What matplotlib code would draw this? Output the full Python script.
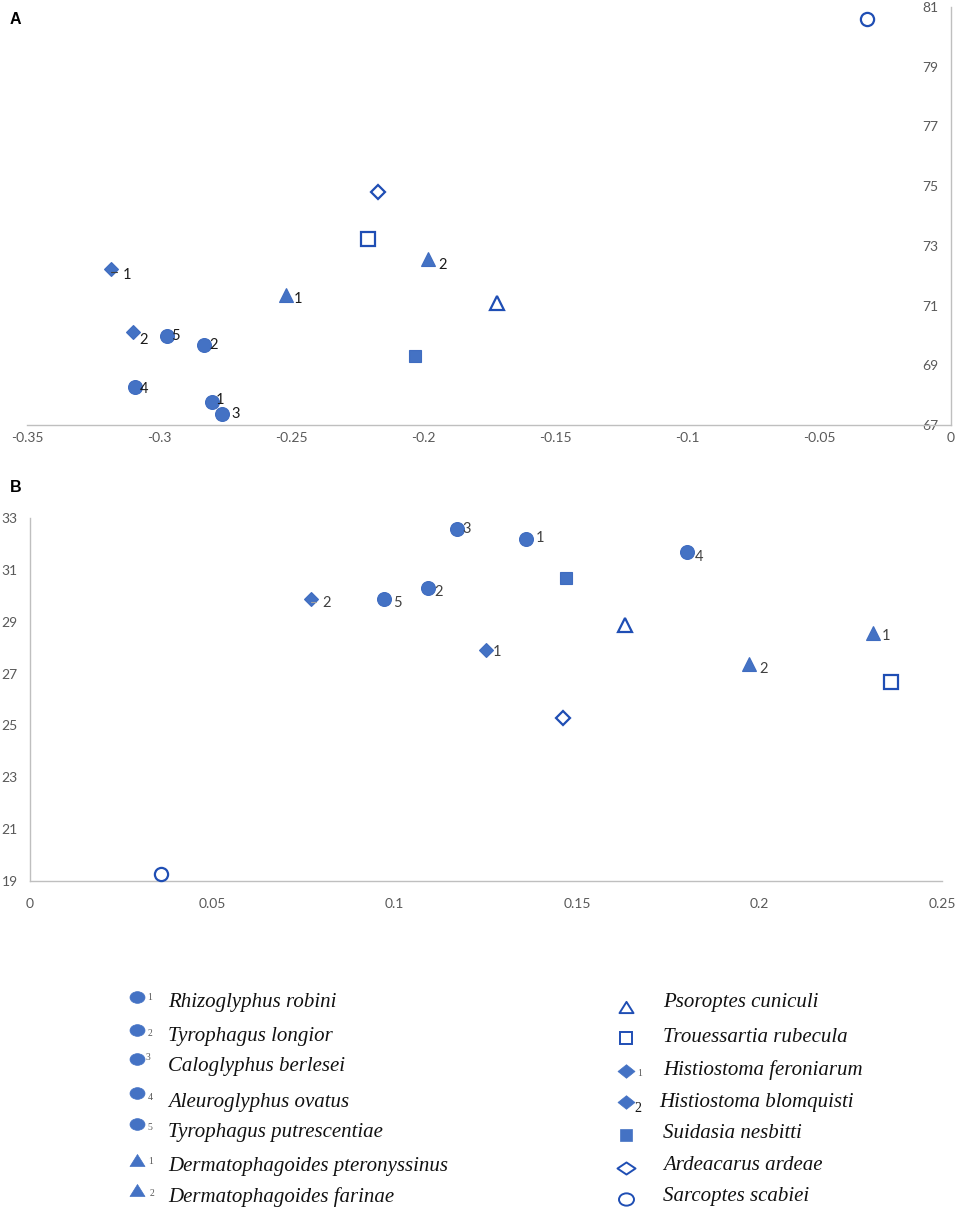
import matplotlib
matplotlib.use("Agg")
import matplotlib.pyplot as plt
from matplotlib.path import Path
from matplotlib.transforms import Affine2D

plt.rcParams['axes.unicode_minus'] = False

# species, in legend order
species = [
    'Rhizoglyphus robini', 'Tyrophagus longior', 'Caloglyphus berlesei',
    'Aleuroglyphus ovatus', 'Tyrophagus putrescentiae',
    'Dermatophagoides pteronyssinus', 'Dermatophagoides farinae',
    'Psoroptes cuniculi', 'Trouessartia rubecula', 'Histiostoma feroniarum',
    'Histiostoma blomquisti', 'Suidasia nesbitti', 'Ardeacarus ardeae',
    'Sarcoptes scabiei',
]
tags = ['1', '2', '3', '4', '5', '1', '2', '', '', '1', '2', '', '', '']

# panel A
a_x = [-0.280, -0.283, -0.276, -0.309, -0.297, -0.252, -0.198,
       -0.172, -0.221, -0.318, -0.310, -0.203, -0.217, -0.032]
a_y = [67.77, 69.68, 67.37, 68.27, 69.98, 71.35, 72.56,
       71.09, 73.23, 72.22, 70.11, 69.31, 74.80, 80.60]
a_xticks = [-0.35, -0.3, -0.25, -0.2, -0.15, -0.1, -0.05, 0]
a_xlabels = ['-0.35', '-0.3', '-0.25', '-0.2', '-0.15', '-0.1', '-0.05', '0']
a_yticks = [67, 69, 71, 73, 75, 77, 79, 81]

# panel B
b_x = [0.136, 0.109, 0.117, 0.180, 0.097, 0.231, 0.197,
       0.163, 0.236, 0.125, 0.077, 0.147, 0.146, 0.036]
b_y = [32.19, 30.30, 32.57, 31.69, 29.88, 28.56, 27.37,
       28.87, 26.67, 27.90, 29.88, 30.69, 25.29, 19.27]
b_xticks = [0, 0.05, 0.1, 0.15, 0.2, 0.25]
b_xlabels = ['0', '0.05', '0.1', '0.15', '0.2', '0.25']
b_yticks = [19, 21, 23, 25, 27, 29, 31, 33]

FILL = '#4472C4'
EDGE_OPEN = '#1F4EB4'
AXIS_GREY = '#BFBFBF'
TICK_GREY = '#595959'

# marker style per species: (marker, filled, size)
styles = [('o', True, 10)] * 5 + [('^', True, 10.5)] * 2 + [
    ('^', False, 10), ('s', False, 9.5), ('D', True, 7), ('D', True, 7),
    ('s', True, 9), ('D', False, 7.5), ('o', False, 9.5)]

# label offsets in pixels (dx, dy), by species index
a_offsets = {0: (8, 2), 1: (10, 0), 2: (13, 0), 3: (9, -2), 4: (9, 0),
             5: (12, -4), 6: (14, -6), 9: (16, -6), 10: (11, -8)}
b_offsets = {0: (14, 1), 1: (11, -4), 2: (10, 0), 3: (12, -5), 4: (14, -4),
             5: (13, -3), 6: (15, -5), 9: (11, -2), 10: (16, -4)}


def draw_points(ax, xs, ys, offsets, tag_color):
    for i, (x, y) in enumerate(zip(xs, ys)):
        m, filled, size = styles[i]
        if filled:
            ax.plot(x, y, marker=m, ms=size, mfc=FILL, mec='#3F6CC0',
                    mew=0.8, ls='none', clip_on=False, zorder=3)
        else:
            ax.plot(x, y, marker=m, ms=size, mfc='white', mec=EDGE_OPEN,
                    mew=1.6, ls='none', clip_on=False, zorder=3)
        if tags[i]:
            ax.annotate(tags[i], (x, y), xytext=offsets[i],
                        textcoords='offset pixels', ha='center', va='center',
                        fontsize=10.5, color=tag_color, family='Lato',
                        zorder=4)


def style_axes(ax, pad_x, pad_y):
    for s in ['top', 'right']:
        ax.spines[s].set_visible(False)
    for s in ['left', 'bottom']:
        ax.spines[s].set_color(AXIS_GREY)
        ax.spines[s].set_linewidth(1.0)
    ax.tick_params(axis='x', length=0, pad=pad_x, labelsize=10,
                   labelcolor=TICK_GREY)
    ax.tick_params(axis='y', length=0, pad=pad_y, labelsize=10,
                   labelcolor=TICK_GREY)
    for lab in ax.get_xticklabels() + ax.get_yticklabels():
        lab.set_family('Lato')


fig = plt.figure(figsize=(9.57, 12.1), dpi=100)

# --- panel A ---
ax_a = fig.add_axes([27 / 957, 1 - 425 / 1210, 924 / 957, 418 / 1210])
ax_a.set_xlim(-0.35, 0)
ax_a.set_ylim(67, 81)
ax_a.set_xticks(a_xticks)
ax_a.set_xticklabels(a_xlabels)
ax_a.set_yticks(a_yticks)
ax_a.spines['left'].set_position(('data', 0))
style_axes(ax_a, 5, 9)
draw_points(ax_a, a_x, a_y, a_offsets, '#1A1A1A')
# little leader line left by the label of H. feroniarum
ax_a.annotate('', (a_x[9], a_y[9]), xytext=(8, -3),
              textcoords='offset pixels',
              arrowprops=dict(arrowstyle='-', color='#404040', lw=0.8,
                              connectionstyle='angle,angleA=0,angleB=90'))

# --- panel B ---
ax_b = fig.add_axes([30 / 957, 1 - 881 / 1210, 912 / 957, 363 / 1210])
ax_b.set_xlim(0, 0.25)
ax_b.set_ylim(19, 33)
ax_b.set_xticks(b_xticks)
ax_b.set_xticklabels(b_xlabels)
ax_b.set_yticks(b_yticks)
style_axes(ax_b, 12, 9)
draw_points(ax_b, b_x, b_y, b_offsets, '#404040')
ax_b.annotate('', (b_x[10], b_y[10]), xytext=(8, -3),
              textcoords='offset pixels',
              arrowprops=dict(arrowstyle='-', color='#A0A0A0', lw=0.8,
                              connectionstyle='angle,angleA=0,angleB=90'))

fig.text(10 / 957, 1 - 19 / 1210, 'A', fontsize=11.5, fontweight='bold',
         family='Liberation Sans', va='center', ha='left')
fig.text(10 / 957, 1 - 488 / 1210, 'B', fontsize=11.5, fontweight='bold',
         family='Liberation Sans', va='center', ha='left')

# --- legend ---
leg = fig.add_axes([0, 0, 1, 1], zorder=-1)
leg.set_xlim(0, 957)
leg.set_ylim(1210, 0)
leg.axis('off')

oval = Path.unit_circle().transformed(Affine2D().scale(1.0, 0.78))
flat_tri = Path([(0, 0.8), (-1.0, -0.8), (1.0, -0.8), (0, 0.8)],
                [Path.MOVETO, Path.LINETO, Path.LINETO, Path.CLOSEPOLY])
flat_dia = Path([(0, 0.8), (-1.0, 0), (0, -0.8), (1.0, 0), (0, 0.8)],
                [Path.MOVETO, Path.LINETO, Path.LINETO, Path.LINETO,
                 Path.CLOSEPOLY])
wide_dia = Path([(0, 0.67), (-1.0, 0), (0, -0.67), (1.0, 0), (0, 0.67)],
                [Path.MOVETO, Path.LINETO, Path.LINETO, Path.LINETO,
                 Path.CLOSEPOLY])
flat_circ = Path.unit_circle().transformed(Affine2D().scale(1.0, 0.82))

left_mark_y = [997, 1030, 1059, 1093, 1124, 1160, 1190]
left_text_y = [1003, 1037, 1067, 1102, 1132, 1166, 1197]
left_tag_pos = [(150, 998), (150, 1034), (148, 1057), (150, 1097),
                (150, 1127), (151, 1162), (152, 1193)]
right_mark_y = [1007, 1038, 1071, 1102, 1135, 1168, 1199]
right_text_y = [1003, 1037, 1070, 1102, 1133, 1165, 1197]
right_text_x = [663, 663, 663, 659, 663, 663, 663]

# legend symbol, filled, width in pixels
leg_markers = [(oval, True, 15)] * 5 + [(flat_tri, True, 15)] * 2 + [
    (flat_tri, False, 14), ('s', False, 12), (flat_dia, True, 17),
    (flat_dia, True, 17), ('s', True, 11.5), (wide_dia, False, 18),
    (flat_circ, False, 15)]

for k in range(14):
    m, filled, size = leg_markers[k]
    if k < 7:
        mx, my, tx, ty = 137, left_mark_y[k], 168, left_text_y[k]
    else:
        j = k - 7
        mx, my, tx, ty = 626, right_mark_y[j], right_text_x[j], right_text_y[j]
    if filled:
        leg.plot(mx, my, marker=m, ms=size * 0.72, mfc=FILL, mec=FILL,
                 mew=0.5, ls='none')
    else:
        leg.plot(mx, my, marker=m, ms=size * 0.72, mfc='white',
                 mec=EDGE_OPEN, mew=1.4, ls='none')
    leg.text(tx, ty, species[k], fontsize=15, style='italic',
             family='Liberation Serif', va='center', ha='left',
             color='#111111')
    if k < 7:
        px, py = left_tag_pos[k]
        leg.text(px, py, tags[k], fontsize=7, color='#595959',
                 family='Liberation Serif', va='center', ha='center')

leg.text(640, 1073, '1', fontsize=7, color='#595959',
         family='Liberation Serif', va='center', ha='center')
leg.text(638, 1109, '2', fontsize=10, color='#111111',
         family='Liberation Serif', va='center', ha='center')

fig.savefig('out.png', dpi=100)
